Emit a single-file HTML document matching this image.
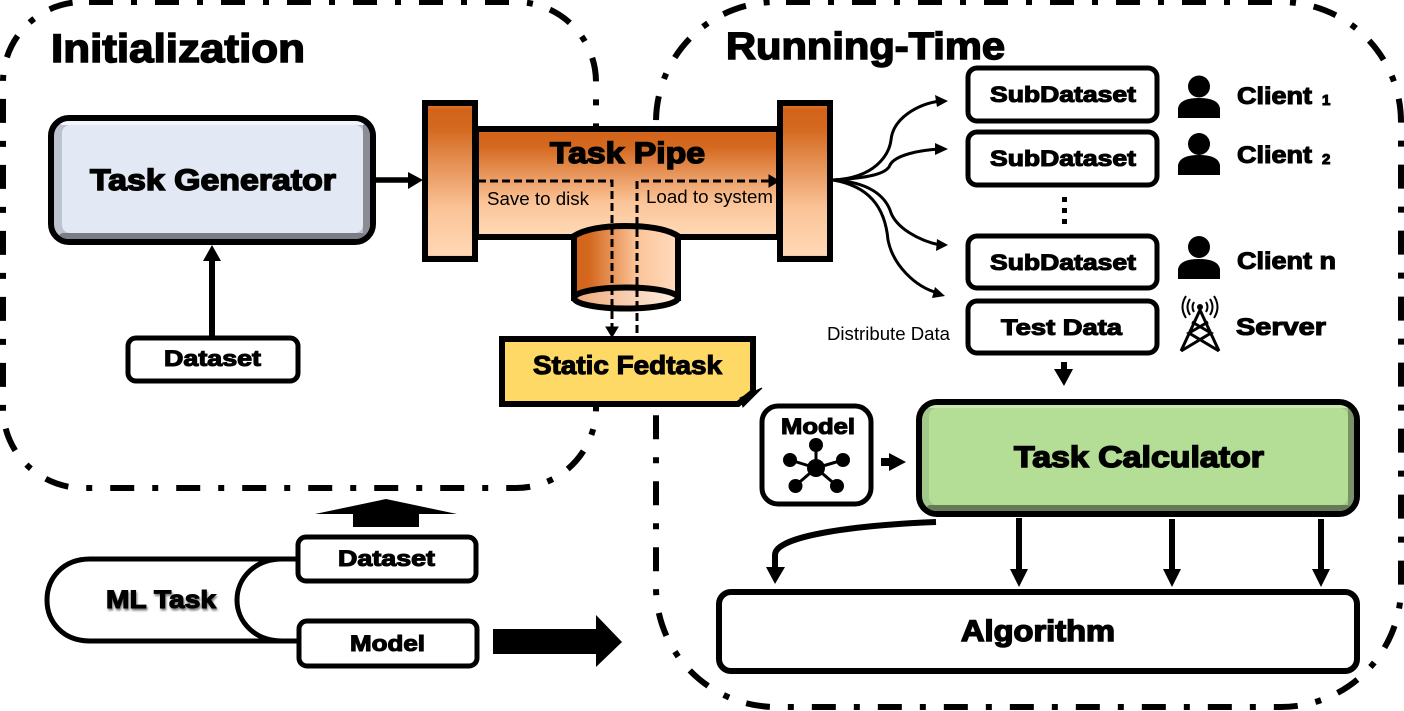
<!DOCTYPE html>
<html><head><meta charset="utf-8"><style>
html,body{margin:0;padding:0;background:#fff;width:1404px;height:711px;overflow:hidden}
svg{display:block}
text{font-family:"Liberation Sans",sans-serif;fill:#000}
.b{font-weight:bold;stroke:#000;stroke-width:1.1px}
.B{font-weight:bold;stroke:#000;stroke-width:1.5px}
.r{fill:#fff;stroke:#000;stroke-width:5}
.l{fill:none;stroke:#000}
.d{fill:none;stroke:#000;stroke-width:6;stroke-dasharray:24 18 6 18}
</style></head><body>
<svg width="1404" height="711" viewBox="0 0 1404 711" xmlns="http://www.w3.org/2000/svg">
<defs>
<linearGradient id="v" x1="0" y1="0" x2="0" y2="1"><stop offset="0" stop-color="#F08030"/><stop offset=".04" stop-color="#D2631A"/><stop offset=".16" stop-color="#D4681F"/><stop offset=".68" stop-color="#FBC498"/><stop offset=".97" stop-color="#FFD8B5"/><stop offset="1" stop-color="#C9A080"/></linearGradient>
<linearGradient id="h" x1="0" y1="0" x2="1" y2="0"><stop offset="0" stop-color="#D2631A"/><stop offset=".15" stop-color="#D4681F"/><stop offset=".6" stop-color="#FBC498"/><stop offset="1" stop-color="#FFDCC0"/></linearGradient>
<linearGradient id="h2" x1="0" y1="0" x2="1" y2="0"><stop offset="0" stop-color="#EFA97A"/><stop offset="1" stop-color="#FFF0E4"/></linearGradient>
<clipPath id="cg"><rect x="54" y="121" width="316" height="118" rx="15"/></clipPath>
<clipPath id="cc"><rect x="922" y="405" width="432" height="106" rx="15"/></clipPath>
</defs>

<rect x="3" y="2" width="593" height="486" rx="80" class="d" stroke-dashoffset="-6"/>
<path class="d" stroke-dashoffset="-10" d="M776 2H1281A120 120 0 0 1 1401 122V587A120 120 0 0 1 1281 707H776A120 120 0 0 1 656 587V122"/>
<path class="d" stroke-dashoffset="-2" d="M656 122A120 120 0 0 1 776 2"/>
<rect x="588" y="305" width="78" height="31" fill="#fff"/>

<text x="51" y="62" class="B" font-size="40" textLength="254" lengthAdjust="spacingAndGlyphs">Initialization</text>
<text x="726" y="59" class="B" font-size="38" textLength="279" lengthAdjust="spacingAndGlyphs">Running-Time</text>

<!-- Task Generator -->
<rect x="51" y="118" width="322" height="124" rx="18" fill="#BCC3CE" stroke="#000" stroke-width="6"/>
<g clip-path="url(#cg)">
<path d="M54 121H370L363 125H62Z" fill="#F2F5FA"/>
<path d="M370 121V239L363 233V125Z" fill="#8A8D95"/>
<path d="M54 239H370L363 233H62Z" fill="#7A7D85"/>
</g>
<rect x="62" y="125" width="301" height="108" rx="8" fill="#E2E9F4"/>
<text x="90" y="190" class="B" font-size="30" textLength="246" lengthAdjust="spacingAndGlyphs">Task Generator</text>

<path class="l" stroke-width="5.500" d="M376 180H412"/><path d="M408 172L423 180L408 189Z"/>
<path class="l" stroke-width="6" d="M212 336V258"/><path d="M203 261L212 245L221 261Z"/>
<rect x="128" y="338" width="170" height="43" rx="8" class="r"/>
<text x="164" y="366" class="b" font-size="22" textLength="97" lengthAdjust="spacingAndGlyphs">Dataset</text>

<!-- Pipe -->
<rect x="476" y="129" width="303" height="108" fill="url(#v)" stroke="#000" stroke-width="6"/>
<rect x="425" y="103" width="50" height="156" fill="url(#v)" stroke="#000" stroke-width="6"/>
<rect x="780" y="103" width="50" height="156" fill="url(#v)" stroke="#000" stroke-width="6"/>
<text x="550" y="163" class="B" font-size="30" textLength="155" lengthAdjust="spacingAndGlyphs">Task Pipe</text>
<text x="487" y="205" font-size="18" textLength="102" lengthAdjust="spacingAndGlyphs">Save to disk</text>
<text x="646" y="203" font-size="18" textLength="127" lengthAdjust="spacingAndGlyphs">Load to system</text>

<!-- Cylinder -->
<path d="M574 236Q590 226 626 226T678 236V298H574Z" fill="url(#h)" stroke="#000" stroke-width="6"/>
<ellipse cx="626" cy="298" rx="52" ry="10.500" fill="url(#h2)" stroke="#000" stroke-width="6"/>

<!-- dashed -->
<path class="l" stroke-width="3" stroke-dasharray="8 4" d="M478 181H612V328"/>
<path d="M606 327L612 337L618 327Z" stroke="#000"/>
<path class="l" stroke-width="3" stroke-dasharray="8 4" d="M637 333V181H770"/>
<path d="M769 175L779 181L769 187Z" stroke="#000"/>

<!-- Static Fedtask -->
<path d="M502 339H753V392L738 404H502Z" fill="#FFD966" stroke="#000" stroke-width="6"/>
<path d="M740 398L762 388L743 407Z" stroke="#000"/>
<text x="533" y="374" class="b" font-size="26" textLength="189" lengthAdjust="spacingAndGlyphs">Static Fedtask</text>

<!-- Curves -->
<g fill="none" stroke="#000" stroke-width="3">
<path d="M833 180C875 178 889 155 891 140C893 118 918 104 940 101"/>
<path d="M833 180C868 178 887 174 890 165C895 155 920 150 940 149"/>
<path d="M833 180C868 182 884 195 890 210C895 228 920 241 940 245"/>
<path d="M833 180C868 186 885 206 888 240C893 265 915 287 938 293"/>
</g>
<path d="M935 95L948 101L937 107Z"/><path d="M935 143L948 149L935 155Z"/><path d="M937 239L948 245L936 251Z"/><path d="M935 287L945 296L932 298Z"/>

<!-- SubDatasets -->
<rect x="968" y="68" width="189" height="53" rx="9" class="r"/>
<rect x="968" y="132" width="189" height="53" rx="9" class="r"/>
<rect x="968" y="236" width="189" height="52" rx="9" class="r"/>
<rect x="968" y="301" width="189" height="52" rx="9" class="r"/>
<g class="b" font-size="22">
<text x="990" y="102" textLength="146" lengthAdjust="spacingAndGlyphs">SubDataset</text>
<text x="990" y="166" textLength="146" lengthAdjust="spacingAndGlyphs">SubDataset</text>
<text x="990" y="270" textLength="146" lengthAdjust="spacingAndGlyphs">SubDataset</text>
<text x="1001" y="335" textLength="121" lengthAdjust="spacingAndGlyphs">Test Data</text>
<text x="1237" y="104" font-size="24" textLength="75" lengthAdjust="spacingAndGlyphs">Client</text>
<text x="1322" y="105" font-size="15">1</text>
<text x="1237" y="163" font-size="24" textLength="75" lengthAdjust="spacingAndGlyphs">Client</text>
<text x="1322" y="164" font-size="15">2</text>
<text x="1237" y="269" font-size="24" textLength="99" lengthAdjust="spacingAndGlyphs">Client n</text>
<text x="1236" y="335" font-size="24" textLength="90" lengthAdjust="spacingAndGlyphs">Server</text>
</g>
<rect x="1062" y="197" width="5" height="5"/><rect x="1062" y="208" width="5" height="5"/><rect x="1062" y="219" width="5" height="5"/>

<!-- People -->
<g>
<circle cx="1199" cy="86.500" r="11"/><path d="M1178 118V108Q1180 98 1199 98T1220 108V118Z"/>
<circle cx="1199" cy="144" r="11"/><path d="M1178 175V165Q1180 155 1199 155T1220 165V175Z"/>
<circle cx="1199" cy="247" r="11"/><path d="M1178 279V269Q1180 259 1199 259T1220 269V279Z"/>
</g>
<!-- Tower -->
<g fill="none" stroke="#000" stroke-width="3">
<path d="M1200 310L1181 351M1200 310L1219 351M1181 351L1211 333L1192 322M1219 351L1189 333L1208 322"/>
<path stroke-width="2" d="M1194 302Q1191 307 1194 312M1206 302Q1209 307 1206 312M1190 299Q1185 307 1190 315M1210 299Q1215 307 1210 315M1186 296Q1179 307 1186 318M1214 296Q1221 307 1214 318"/>
</g>
<circle cx="1200" cy="307" r="3"/>
<text x="827" y="340" font-size="18" textLength="123" lengthAdjust="spacingAndGlyphs">Distribute Data</text>
<path class="l" stroke-width="6" d="M1064 362V372"/><path d="M1054 369H1073L1064 386Z"/>

<!-- Model -->
<rect x="762" y="406" width="109" height="98" rx="16" class="r"/>
<text x="781" y="434" class="b" font-size="22" textLength="74" lengthAdjust="spacingAndGlyphs">Model</text>
<g stroke="#000" stroke-width="3"><path d="M816 468L816 445M816 468L790 460M816 468L843 460M816 468L795 486M816 468L837 486"/></g>
<circle cx="816" cy="468" r="9"/><circle cx="816" cy="445" r="7"/><circle cx="790" cy="460" r="7"/><circle cx="843" cy="460" r="7"/><circle cx="795.500" cy="486" r="7"/><circle cx="837" cy="486" r="7"/>
<path d="M881 458H889V453L906 462L889 471V466H881Z"/>

<!-- Task Calculator -->
<rect x="919" y="402" width="438" height="112" rx="18" fill="#A3C98A" stroke="#000" stroke-width="6"/>
<g clip-path="url(#cc)">
<path d="M922 405H1354L1348 408H929Z" fill="#C8E8B0"/>
<path d="M1354 405V511L1348 505V408Z" fill="#7A9268"/>
<path d="M922 511H1354L1348 505H929Z" fill="#667A58"/>
</g>
<rect x="929" y="408" width="419" height="97" rx="8" fill="#B4DE96"/>
<text x="1014" y="467" class="B" font-size="30" textLength="250" lengthAdjust="spacingAndGlyphs">Task Calculator</text>

<!-- Algorithm -->
<rect x="719" y="592" width="638" height="79" rx="12" fill="#fff" stroke="#000" stroke-width="6"/>
<text x="961" y="641" class="B" font-size="30" textLength="154" lengthAdjust="spacingAndGlyphs">Algorithm</text>

<!-- Calc arrows -->
<path class="l" stroke-width="6" d="M936 522C860 525 775 535 775 555V570"/><path d="M766 567H785L775 584Z"/>
<path class="l" stroke-width="6" d="M1019 518V572"/><path d="M1010 569H1028L1019 587Z"/>
<path class="l" stroke-width="6" d="M1172 519V572"/><path d="M1163 569H1181L1172 587Z"/>
<path class="l" stroke-width="6" d="M1321 519V572"/><path d="M1312 569H1330L1321 587Z"/>

<!-- ML Task -->
<path class="l" stroke-width="5" d="M298 559H90C63 559 47 578 47 600S63 641 90 641H298"/>
<path class="l" stroke-width="5" d="M298 559H282C255 559 237 578 237 600S255 641 282 641H298"/>
<text x="106" y="608" class="b" font-size="25" textLength="110" lengthAdjust="spacingAndGlyphs" style="filter:drop-shadow(1px 2px 1px #777)">ML Task</text>
<rect x="298" y="537" width="178" height="44" rx="8" class="r"/>
<rect x="299" y="621" width="178" height="45" rx="8" class="r"/>
<text x="338" y="566" class="b" font-size="22" textLength="97" lengthAdjust="spacingAndGlyphs">Dataset</text>
<text x="350" y="651" class="b" font-size="22" textLength="75" lengthAdjust="spacingAndGlyphs">Model</text>
<path d="M386 499L457 514H419V527H353V514H315Z"/>
<path d="M493 629H596V615L622 642L596 667V654H493Z"/>
</svg>
</body></html>
